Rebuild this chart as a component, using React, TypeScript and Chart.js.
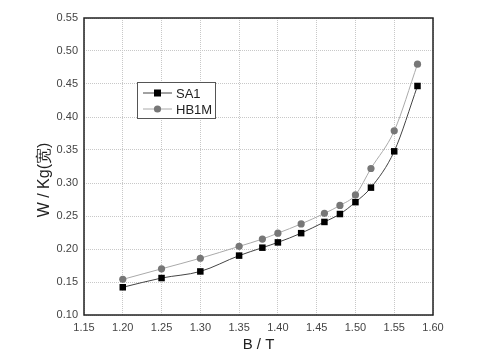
import React, { useEffect, useRef } from "react";
import { Chart, registerables } from "chart.js";

Chart.register(...registerables);

const bValues = [1.2, 1.25, 1.3, 1.35, 1.38, 1.4, 1.43, 1.46, 1.48, 1.5, 1.52, 1.55, 1.58];
const sa1 = [0.142, 0.156, 0.166, 0.19, 0.202, 0.21, 0.224, 0.241, 0.253, 0.271, 0.293, 0.348, 0.447];
const hb1m = [0.154, 0.17, 0.186, 0.204, 0.215, 0.224, 0.238, 0.254, 0.266, 0.282, 0.322, 0.379, 0.48];
const seriesNames = ["SA1", "HB1M"];
const xTitle = "B / T";
const yTitle = "W / Kg(宽)";

const FONT = "'Liberation Sans', Arial, sans-serif";

const boxAndLegend = {
  id: "boxAndLegend",
  afterDatasetsDraw(chart: any) {
    const { ctx, chartArea } = chart;
    ctx.save();
    ctx.strokeStyle = "#222";
    ctx.lineWidth = 1.5;
    ctx.strokeRect(chartArea.left, chartArea.top, chartArea.right - chartArea.left, chartArea.bottom - chartArea.top);

    // y axis title
    ctx.save();
    ctx.translate(45, 180);
    ctx.rotate(-Math.PI / 2);
    ctx.fillStyle = "#222";
    ctx.font = `16px ${FONT}`;
    ctx.textAlign = "center";
    ctx.textBaseline = "middle";
    ctx.fillText(yTitle, 0, 0);
    ctx.restore();

    // legend box
    const lx = 137, ly = 82, lw = 78, lh = 36;
    ctx.fillStyle = "#fff";
    ctx.fillRect(lx, ly, lw, lh);
    ctx.strokeStyle = "#555";
    ctx.lineWidth = 1;
    ctx.strokeRect(lx + 0.5, ly + 0.5, lw, lh);
    const items = [
      { name: seriesNames[0], line: "#444", mark: "#000", shape: "square", y: ly + 11 },
      { name: seriesNames[1], line: "#aaa", mark: "#777", shape: "circle", y: ly + 27 },
    ];
    for (const it of items) {
      ctx.strokeStyle = it.line;
      ctx.lineWidth = 1;
      ctx.beginPath();
      ctx.moveTo(lx + 6, it.y);
      ctx.lineTo(lx + 35, it.y);
      ctx.stroke();
      ctx.fillStyle = it.mark;
      if (it.shape === "square") ctx.fillRect(lx + 17, it.y - 3.5, 7, 7);
      else {
        ctx.beginPath();
        ctx.arc(lx + 20.5, it.y, 3.6, 0, Math.PI * 2);
        ctx.fill();
      }
      ctx.fillStyle = "#222";
      ctx.font = `13px ${FONT}`;
      ctx.textBaseline = "middle";
      ctx.textAlign = "left";
      ctx.fillText(it.name, lx + 39, it.y + 1);
    }
    ctx.restore();
  },
};

export default function App() {
  const ref = useRef<HTMLCanvasElement>(null);
  useEffect(() => {
    document.body.style.margin = "0";
    const chart = new Chart(ref.current!, {
      type: "line",
      data: {
        datasets: [
          {
            label: seriesNames[0],
            data: bValues.map((x, i) => ({ x, y: sa1[i] })),
            borderColor: "#444",
            borderWidth: 1,
            backgroundColor: "#000",
            pointStyle: "rect",
            pointRadius: 4.6,
            pointBorderWidth: 0,
            cubicInterpolationMode: "monotone",
          },
          {
            label: seriesNames[1],
            data: bValues.map((x, i) => ({ x, y: hb1m[i] })),
            borderColor: "#aaa",
            borderWidth: 1,
            backgroundColor: "#777",
            pointStyle: "circle",
            pointRadius: 3.6,
            pointBorderWidth: 0,
            cubicInterpolationMode: "monotone",
          },
        ],
      },
      plugins: [boxAndLegend],
      options: {
        animation: false,
        responsive: false,
        layout: { padding: { left: 0, right: 62, top: 18, bottom: 0 } },
        plugins: { legend: { display: false }, tooltip: { enabled: false } },
        scales: {
          x: {
            type: "linear",
            min: 1.15,
            max: 1.6,
            afterFit(s: any) { s.height = 43; },
            ticks: {
              stepSize: 0.05,
              callback: (v: any) => Number(v).toFixed(2),
              font: { family: FONT, size: 11 },
              color: "#444",
              padding: 6,
            },
            grid: { color: "#c8c8c8", drawTicks: false, lineWidth: 1 },
            border: { display: false, dash: [1, 1] },
            title: { display: true, text: xTitle, font: { family: FONT, size: 15 }, color: "#222", padding: { top: 2 } },
          },
          y: {
            min: 0.1,
            max: 0.55,
            afterFit(s: any) { s.width = 84; },
            ticks: {
              stepSize: 0.05,
              callback: (v: any) => Number(v).toFixed(2),
              font: { family: FONT, size: 11 },
              color: "#444",
              padding: 6,
            },
            grid: { color: "#c8c8c8", drawTicks: false, lineWidth: 1 },
            border: { display: false, dash: [1, 1] },
          },
        },
      },
    } as any);
    return () => chart.destroy();
  }, []);
  return <canvas ref={ref} width={495} height={358} style={{ display: "block" }} />;
}
